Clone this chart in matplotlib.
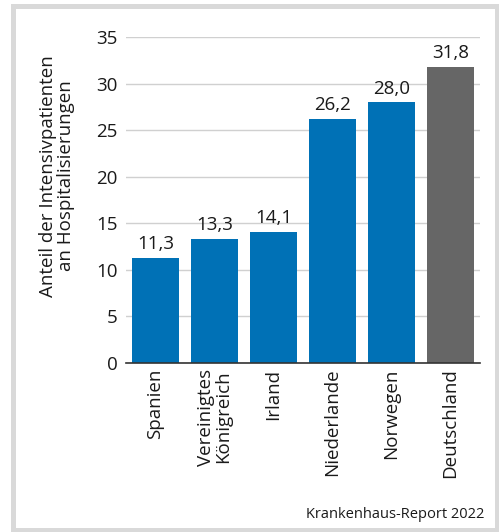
import matplotlib
matplotlib.use("Agg")
import matplotlib.pyplot as plt
from matplotlib.patches import Rectangle

plt.rcParams['font.family'] = ['Open Sans', 'DejaVu Sans']

laender = ["Spanien", "Vereinigtes\nKönigreich", "Irland", "Niederlande", "Norwegen", "Deutschland"]
anteil = [11.3, 13.3, 14.1, 26.2, 28.0, 31.8]
farben = ["#0071b6"] * 5 + ["#666666"]
y_ticks = [0, 5, 10, 15, 20, 25, 30, 35]

W, H = 499, 532
fig = plt.figure(figsize=(W / 100, H / 100), dpi=100)

# grey frame around the whole graphic
fig.patches.append(Rectangle((12.5 / W, 2.5 / H), 484 / W, 524 / H,
                             transform=fig.transFigure, fill=False,
                             edgecolor="#d9d9d9", linewidth=3.6))

ax = fig.add_axes([126 / W, (H - 363) / H, 354 / W, 326 / H])
x = range(len(laender))
ax.bar(x, anteil, width=0.78, color=farben, zorder=3)
for xi, v in zip(x, anteil):
    ax.text(xi, v + 0.5, f"{v:.1f}".replace(".", ","), ha="center", va="bottom",
            fontsize=13.5, color="#1a1a1a")

ax.set_xlim(-0.5, len(laender) - 0.5)
ax.set_ylim(0, 35)
ax.set_yticks(y_ticks)
ax.set_yticklabels([str(t) for t in y_ticks], fontsize=13.5, color="#1a1a1a")
ax.set_xticks(list(x))
ax.set_xticklabels(laender, rotation=90, fontsize=13.5, color="#1a1a1a",
                   va="top", ha="center", linespacing=0.95)
ax.tick_params(axis="both", length=0, pad=6)
ax.tick_params(axis="x", pad=4)
ax.grid(axis="y", color="#d0d0d0", linewidth=1, zorder=0)
for s in ["top", "right", "left"]:
    ax.spines[s].set_visible(False)
ax.spines["bottom"].set_color("#333333")
ax.spines["bottom"].set_linewidth(1.2)
ax.spines["bottom"].set_zorder(4)

fig.text(57 / W, (H - 176) / H, "Anteil der Intensivpatienten\nan Hospitalisierungen",
         rotation=90, ha="center", va="center", multialignment="center",
         fontsize=13.5, color="#1a1a1a", linespacing=1.0)

fig.text(484 / W, (H - 518) / H, "Krankenhaus-Report 2022", ha="right", va="baseline",
         fontsize=10.5, color="#1a1a1a")

fig.savefig("out.png", dpi=100)
